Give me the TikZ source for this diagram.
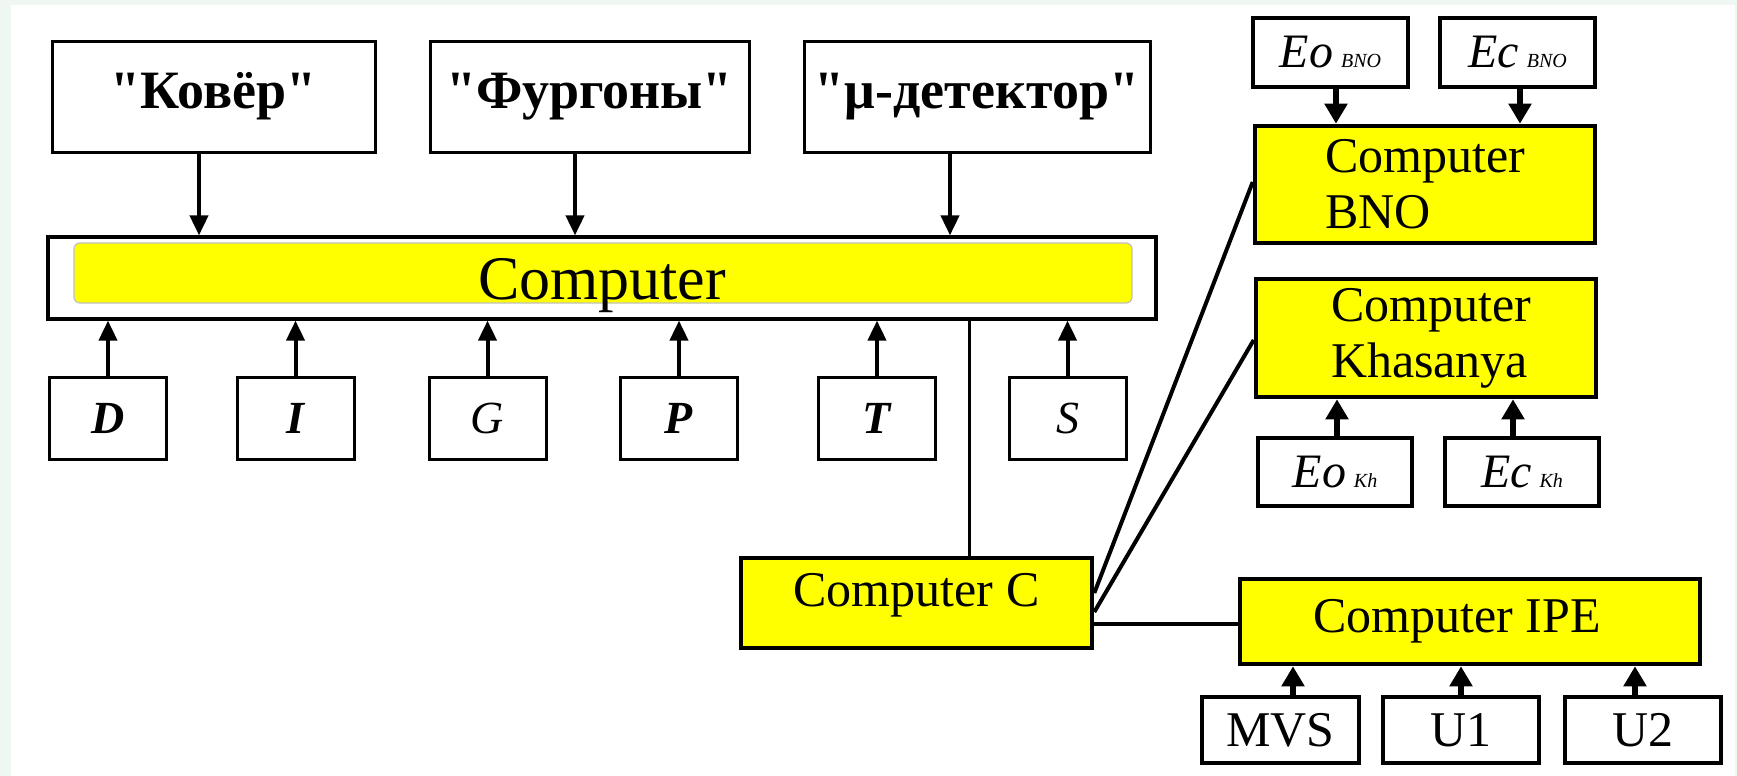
\documentclass[tikz,border=0pt]{standalone}
\usepackage{fontspec}
\setmainfont{Liberation Serif}[Ligatures=TeXOff]
\usetikzlibrary{arrows.meta}
\definecolor{framebg}{HTML}{EEF7F2}
\definecolor{boxyellow}{HTML}{FFFF00}
\tikzset{
  titlebox/.style={draw, line width=1.5pt, fill=white, minimum height=55.5pt, inner sep=0pt,
    font=\fontsize{27}{30}\selectfont\bfseries},
  letterbox/.style={draw, line width=1.5pt, fill=white, minimum width=58.5pt, minimum height=41pt,
    inner sep=0pt, font=\fontsize{23}{26}\selectfont\itshape},
  ybox/.style={draw, line width=2.3pt, fill=boxyellow, inner sep=0pt, font=\fontsize{25}{28}\selectfont},
  wbox/.style={draw, line width=2.3pt, fill=white, inner sep=0pt, font=\fontsize{25}{28}\selectfont},
  ebox/.style={wbox, minimum width=77.5pt, minimum height=34.5pt, font=\fontsize{24}{28}\selectfont\itshape},
  arrL/.style={line width=2pt, -{Triangle[length=10pt,width=9pt]}},
  arrR/.style={line width=3pt, -{Triangle[length=10pt,width=11pt]}},
  thinlink/.style={line width=1.5pt},
  link/.style={line width=2pt}
}
\newcommand{\subsm}[1]{\,{\fontsize{10}{12}\selectfont #1}}
\begin{document}
\begin{tikzpicture}[x=0.5pt,y=-0.5pt]
\fill[framebg] (0,0) rectangle (1737,776);
\fill[white] (11,5) rectangle (1735,776);
\useasboundingbox (0,0) rectangle (1737,776);

% top sources
\node[titlebox, minimum width=161.5pt] (kover) at (213.5,96.5) {"Ковёр"};
\node[titlebox, minimum width=159.5pt] (furgon) at (589.5,96.5) {"Фургоны"};
\node[titlebox, minimum width=173pt] (mudet) at (977,96.5) {"μ-детектор"};

% main computer
\node[draw, line width=1.6pt, fill=white, minimum width=554pt, minimum height=41pt, inner sep=0pt,
      font=\fontsize{31}{34}\selectfont, text height=21pt, text depth=0pt,
      path picture={\fill[boxyellow, draw=black!25, line width=0.6pt, rounded corners=3pt]
        ([xshift=13pt,yshift=-3pt]path picture bounding box.north west) rectangle
        ([xshift=-12pt,yshift=8pt]path picture bounding box.south east);}]
      (comp) at (602,278) {Computer};

\draw[arrL] ([xshift=-7.25pt]kover.south) -- ([xshift=-7.25pt]kover.south |- comp.north);
\draw[arrL] ([xshift=-7.25pt]furgon.south) -- ([xshift=-7.25pt]furgon.south |- comp.north);
\draw[arrL] ([xshift=-13.5pt]mudet.south) -- ([xshift=-13.5pt]mudet.south |- comp.north);

% letter boxes
\node[letterbox, font=\fontsize{23}{26}\selectfont\itshape\bfseries] (D) at (108,418) {D};
\node[letterbox, font=\fontsize{23}{26}\selectfont\itshape\bfseries] (I) at (295.5,418) {I};
\node[letterbox] (G) at (487.5,418) {G};
\node[letterbox, font=\fontsize{23}{26}\selectfont\itshape\bfseries] (P) at (679,418) {P};
\node[letterbox, font=\fontsize{23}{26}\selectfont\itshape\bfseries] (T) at (877,418) {T};
\node[letterbox] (S) at (1067.5,418) {S};
\foreach \n in {D,I,G,P,T,S}{
  \draw[arrL] (\n.north) -- (\n.north |- comp.south);
}

% computer C
\node[ybox, minimum width=175.5pt, minimum height=45pt, text height=17pt, text depth=14pt]
  (compC) at (916.5,603) {Computer C};
\draw[thinlink] ([xshift=26.25pt]compC.north) -- ([xshift=26.25pt]compC.north |- comp.south);

% BNO
\node[ybox, minimum width=170pt, minimum height=58.5pt, align=left] (BNO) at (1425,184.5) {Computer\\BNO};
\node[ebox] (EoB) at (1330.5,52.5) {Eo\subsm{BNO}};
\node[ebox] (EcB) at (1517.5,52.5) {Ec\subsm{BNO}};
\draw[arrR] ([xshift=2.75pt]EoB.south) -- ([xshift=2.75pt]EoB.south |- BNO.north);
\draw[arrR] ([xshift=1.25pt]EcB.south) -- ([xshift=1.25pt]EcB.south |- BNO.north);

% Khasanya
\node[ybox, minimum width=170pt, minimum height=59pt, align=left] (Khas) at (1426,338) {\hspace*{5pt}Computer\\\hspace*{5pt}Khasanya};
\node[ebox, minimum width=77pt, minimum height=34pt] (EoK) at (1335,472) {Eo\subsm{Kh}};
\node[ebox, minimum width=77pt, minimum height=34pt] (EcK) at (1522,472) {Ec\subsm{Kh}};
\draw[arrR] ([xshift=1pt]EoK.north) -- ([xshift=1pt]EoK.north |- Khas.south);
\draw[arrR] ([xshift=-4.5pt]EcK.north) -- ([xshift=-4.5pt]EcK.north |- Khas.south);

% IPE
\node[ybox, minimum width=230pt, minimum height=42.5pt] (IPE) at (1470,621.5) {\hspace*{-13pt}Computer IPE};
\node[wbox, minimum width=78.5pt, minimum height=33pt] (MVS) at (1280.5,730) {MVS};
\node[wbox, minimum width=78pt, minimum height=33pt] (U1) at (1461,730) {U1};
\node[wbox, minimum width=78pt, minimum height=33pt] (U2) at (1643,730) {U2};
\draw[arrR] ([xshift=6.25pt]MVS.north) -- ([xshift=6.25pt]MVS.north |- IPE.south);
\draw[arrR] (U1.north) -- (U1.north |- IPE.south);
\draw[arrR] ([xshift=-4pt]U2.north) -- ([xshift=-4pt]U2.north |- IPE.south);

% links from computer C
\draw[link] ([yshift=5pt]compC.east) -- ([yshift=1.25pt]BNO.west);
\draw[link] ([yshift=-4.5pt]compC.east) -- ([yshift=-1pt]Khas.west);
\draw[link] ([yshift=-10.5pt]compC.east) -- ([yshift=-10.5pt]compC.east -| IPE.west);
\end{tikzpicture}
\end{document}
